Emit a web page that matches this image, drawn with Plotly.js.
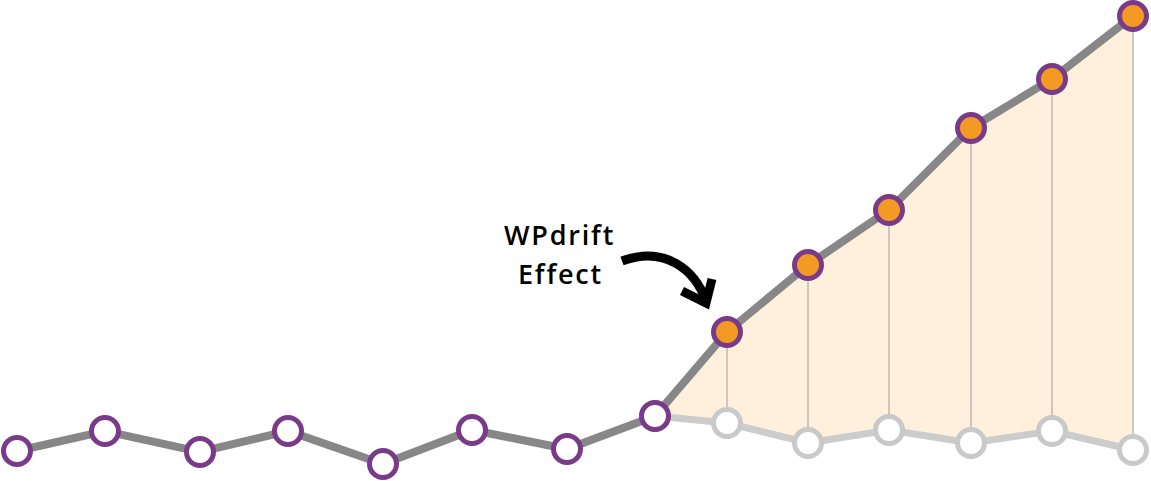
<!DOCTYPE html>
<html>
<head>
<meta charset="utf-8">
<script src="https://cdn.plot.ly/plotly-3.0.1.min.js"></script>
<style>
html,body{margin:0;padding:0;background:#fff;}
#chart{width:1151px;height:481px;}
.annotation-text{letter-spacing:1.8px;}
</style>
</head>
<body>
<div id="chart"></div>
<script>
// Time positions (horizontal) and values
const xMain = [17, 105, 200, 288, 383, 472, 567, 655, 727, 808, 889, 971, 1052, 1133];
const yMain = [30, 50, 29, 50, 17, 51, 32, 65, 149, 216, 271, 353, 402, 465];
const xBase = [655, 727, 808, 889, 971, 1052, 1133];
const yBase = [65, 58, 38, 51, 38, 50, 31];
const effectStart = 7; // index in main series where the effect begins
const labelLines = ["WPdrift", "Effect"];

const purple = "#7a3a8a";
const orange = "#f39a25";

const xUpper = xMain.slice(effectStart);
const yUpper = yMain.slice(effectStart);

// vertical connector lines between baseline and effect line
const vx = [], vy = [];
for (let i = 1; i < xBase.length; i++) {
  vx.push(xBase[i], xBase[i], null);
  vy.push(yBase[i], yUpper[i], null);
}

const markerColors = xMain.map((_, i) => i > effectStart ? orange : "#ffffff");

const traces = [
  {x: xBase, y: yBase, mode: "lines", line: {width: 0, color: "rgba(0,0,0,0)"}, hoverinfo: "skip", showlegend: false},
  {x: xUpper, y: yUpper, mode: "lines", fill: "tonexty", fillcolor: "#fef0dc", line: {width: 0, color: "rgba(0,0,0,0)"}, hoverinfo: "skip", showlegend: false},
  {x: vx, y: vy, mode: "lines", line: {width: 1.2, color: "#aaaaaa"}, hoverinfo: "skip", showlegend: false},
  {x: xBase, y: yBase, mode: "lines+markers", line: {width: 7, color: "#cccccc"},
   marker: {size: 27, color: "#ffffff", line: {width: 5, color: "#c9c9c9"}}, showlegend: false},
  {x: xMain, y: yMain, mode: "lines", line: {width: 8, color: "#878787"}, showlegend: false},
  {x: xMain, y: yMain, mode: "markers",
   marker: {size: 27, color: markerColors, line: {width: 5, color: purple}}, showlegend: false}
];

const labelFont = {family: "Open Sans", size: 27, color: "#000000", weight: 600};

const layout = {
  width: 1151, height: 481,
  margin: {l: 0, r: 0, t: 0, b: 0},
  paper_bgcolor: "#ffffff", plot_bgcolor: "#ffffff",
  xaxis: {range: [0, 1151], visible: false, fixedrange: true},
  yaxis: {range: [0, 481], visible: false, fixedrange: true},
  showlegend: false,
  annotations: [
    {x: 559, y: 247, xref: "x", yref: "y", text: labelLines[0], showarrow: false,
     font: labelFont, xanchor: "center", yanchor: "middle"},
    {x: 560, y: 208, xref: "x", yref: "y", text: labelLines[1], showarrow: false,
     font: labelFont, xanchor: "center", yanchor: "middle"}
  ],
  shapes: [
    {type: "path", xref: "x", yref: "y",
     path: "M 622,220 C 665,236 695,211 706,180",
     line: {color: "#000000", width: 9}, layer: "above"},
    {type: "path", xref: "x", yref: "y",
     path: "M 682,190 L 706,178 L 712,202",
     line: {color: "#000000", width: 9}, layer: "above"}
  ]
};

Plotly.newPlot("chart", traces, layout, {displayModeBar: false, staticPlot: true});
</script>
</body>
</html>
